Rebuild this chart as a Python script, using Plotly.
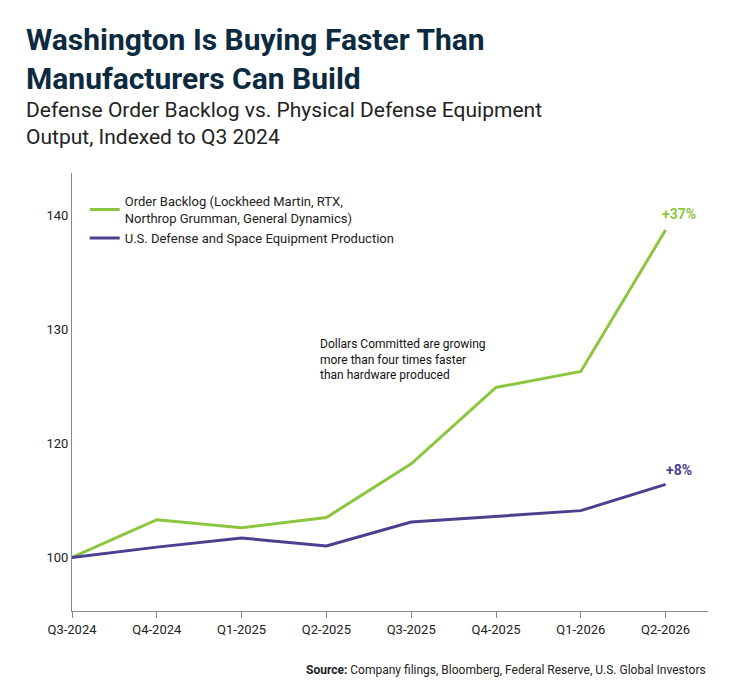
import plotly.graph_objects as go

quarters = ["Q3-2024", "Q4-2024", "Q1-2025", "Q2-2025", "Q3-2025", "Q4-2025", "Q1-2026", "Q2-2026"]
# values read on the axis as drawn (lowest tick is labelled "100" in the source)
backlog = [110.0, 113.3, 112.6, 113.5, 118.2, 124.9, 126.3, 138.7]
production = [110.0, 110.9, 111.7, 111.0, 113.1, 113.6, 114.1, 116.4]
tick_vals = [110, 120, 130, 140]
tick_text = ["100", "120", "130", "140"]

GREEN = "#8cc63f"
PURPLE = "#4d3f8f"
NAVY = "#0c2b40"
FONT = "Roboto"

x = list(range(len(quarters)))

fig = go.Figure()
fig.add_trace(go.Scatter(x=x, y=backlog, mode="lines", line=dict(color=GREEN, width=3),
                         name="Order Backlog (Lockheed Martin, RTX,<br>Northrop Grumman, General Dynamics)"))
fig.add_trace(go.Scatter(x=x, y=production, mode="lines", line=dict(color=PURPLE, width=3),
                         name="U.S. Defense and Space Equipment Production"))

fig.add_annotation(x=x[-1], y=backlog[-1], text="<b>+37%</b>", showarrow=False,
                   xanchor="left", yanchor="bottom", xshift=-6, yshift=6,
                   font=dict(color=GREEN, size=14, family=FONT))
fig.add_annotation(x=x[-1], y=production[-1], text="<b>+8%</b>", showarrow=False,
                   xanchor="left", yanchor="bottom", xshift=-2, yshift=4,
                   font=dict(color=PURPLE, size=14, family=FONT))
fig.add_annotation(x=2.9, y=129.5, text="Dollars Committed are growing<br>more than four times faster<br>than hardware produced",
                   showarrow=False, xanchor="left", yanchor="top", align="left",
                   font=dict(color="#111111", size=12, family=FONT))

fig.add_annotation(xref="paper", yref="paper", x=-0.075, y=1.35, xanchor="left", yanchor="top",
                   text="<b>Washington Is Buying Faster Than<br>Manufacturers Can Build</b>",
                   showarrow=False, align="left", font=dict(color=NAVY, size=30, family=FONT))
fig.add_annotation(xref="paper", yref="paper", x=-0.075, y=1.175, xanchor="left", yanchor="top",
                   text="Defense Order Backlog vs. Physical Defense Equipment<br>Output, Indexed to Q3 2024",
                   showarrow=False, align="left", font=dict(color="#222222", size=21, family=FONT))
fig.add_annotation(xref="paper", yref="paper", x=1.0, y=-0.115, xanchor="right", yanchor="top",
                   text="<b>Source:</b> Company filings, Bloomberg, Federal Reserve, U.S. Global Investors",
                   showarrow=False, font=dict(color="#222222", size=12, family=FONT))

fig.update_layout(
    width=736, height=682,
    margin=dict(l=64, r=36, t=165, b=79),
    plot_bgcolor="white", paper_bgcolor="white",
    font=dict(family=FONT, color="#222222", size=13),
    showlegend=True,
    legend=dict(x=0.02, y=0.97, xanchor="left", yanchor="top", bgcolor="rgba(0,0,0,0)",
                font=dict(size=13, family=FONT), tracegroupgap=8),
)
fig.update_xaxes(range=[0, 7.5], tickvals=x, ticktext=quarters, showgrid=False,
                 showline=True, linecolor="#888888", ticks="outside", tickcolor="#888888",
                 ticklen=6, zeroline=False, tickfont=dict(size=13))
fig.update_yaxes(range=[105.3, 143.7], tickvals=tick_vals, ticktext=tick_text, showgrid=False,
                 showline=True, linecolor="#888888", ticks="", zeroline=False,
                 tickfont=dict(size=13))

fig.write_html("out.html")
